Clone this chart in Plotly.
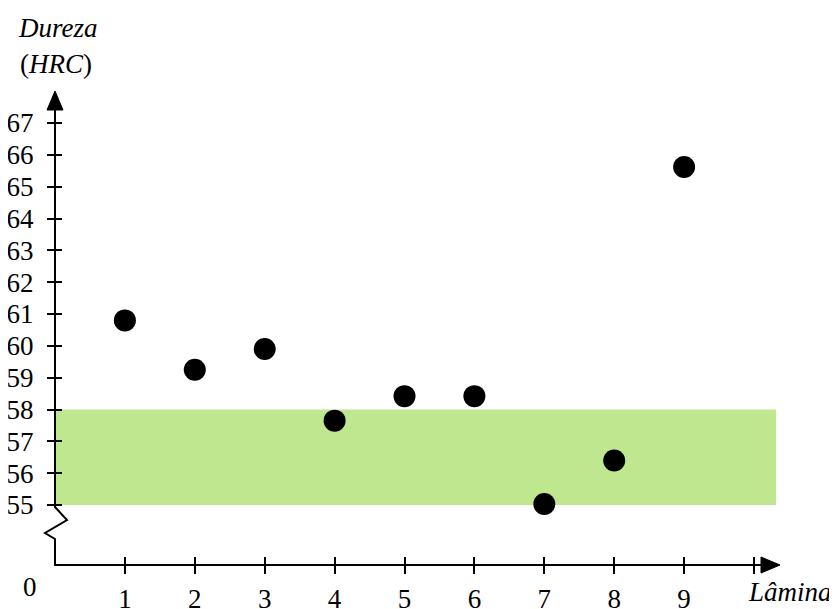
import plotly.graph_objects as go

# ---- data ----
laminas = [1, 2, 3, 4, 5, 6, 7, 8, 9]
dureza = [60.8, 59.25, 59.9, 57.65, 58.42, 58.42, 55.03, 56.4, 65.62]
y_ticks = list(range(55, 68))
x_ticks = [1, 2, 3, 4, 5, 6, 7, 8, 9, 10]
x_ticklabels = ["1", "2", "3", "4", "5", "6", "7", "8", "9", ""]
band_low, band_high = 55, 58

# ---- geometry (pixel scale of the picture, in page pixels) ----
OFF = 8                 # default page margin around the figure
W, H = 837 - OFF, 609 - OFF
AX_X, AX_Y = 55, 565    # page pixel of the axes corner
L = AX_X - OFF
B = H - (AX_Y - OFF)
XPX = 69.9     # pixels per lamina
YPX = 31.83    # pixels per HRC unit
Y55_PX = 505   # page pixel row of y = 55


def X(px):
    return (px - AX_X) / XPX


def Y(py):
    return 55 + (Y55_PX - py) / YPX


def PX(px):
    return (px - AX_X) / (W - L)


def PY(py):
    return (AX_Y - py) / (H - B)


FONT = "Liberation Serif"
x_range = [0, (W - L) / XPX]
y_range = [Y(AX_Y), Y(OFF)]

fig = go.Figure()
fig.add_trace(go.Scatter(
    x=laminas, y=dureza, mode="markers",
    marker=dict(size=22, color="black"),
    cliponaxis=False, showlegend=False, hoverinfo="x+y",
))
# dummy trace for overlaid axes (inside ticks)
fig.add_trace(go.Scatter(x=[None], y=[None], xaxis="x2", yaxis="y2", showlegend=False))

tf = dict(family=FONT, size=27, color="black")
common = dict(showgrid=False, zeroline=False, showline=False, tickcolor="black",
              tickwidth=2, automargin=False, tickfont=tf)
fig.update_layout(
    width=W, height=H,
    margin=dict(l=L, r=0, t=0, b=B, autoexpand=False),
    plot_bgcolor="white", paper_bgcolor="white",
    font=tf,
    xaxis=dict(range=x_range, tickvals=x_ticks, ticktext=x_ticklabels,
               ticks="outside", ticklen=8, ticklabelstandoff=2, **common),
    yaxis=dict(range=y_range, tickvals=y_ticks, ticks="outside", ticklen=7,
               ticklabelstandoff=8, **common),
    xaxis2=dict(range=x_range, tickvals=x_ticks, ticks="inside", ticklen=8,
                showticklabels=False, overlaying="x", anchor="y", side="bottom", **common),
    yaxis2=dict(range=y_range, tickvals=y_ticks, ticks="inside", ticklen=7,
                showticklabels=False, overlaying="y", anchor="x", side="left", **common),
)

shapes = []
# green band
shapes.append(dict(type="rect", xref="x", yref="y", x0=0, x1=X(776), y0=band_low, y1=band_high,
                   fillcolor="#bfe78f", line=dict(width=0), layer="below"))


def ppath(pts, close=False):
    s = "M " + " L ".join(f"{PX(px)},{PY(py)}" for px, py in pts)
    return s + (" Z" if close else "")


# axis lines with break zigzag
pts = [(55, 108), (55, 507), (67, 520), (45, 533), (55, 539), (55, 565), (762, 565)]
shapes.append(dict(type="path", xref="paper", yref="paper", path=ppath(pts),
                   line=dict(color="black", width=2)))
# arrowheads
up = [(55, 91), (47, 110), (63, 110)]
shapes.append(dict(type="path", xref="paper", yref="paper", path=ppath(up, True),
                   fillcolor="black", line=dict(color="black", width=1)))
right = [(780, 565), (761, 557), (761, 573)]
shapes.append(dict(type="path", xref="paper", yref="paper", path=ppath(right, True),
                   fillcolor="black", line=dict(color="black", width=1)))
fig.update_layout(shapes=shapes)

ann = [
    dict(text="<i>Dureza</i>", x=PX(58), y=PY(28)),
    dict(text="(<i>HRC</i>)", x=PX(56), y=PY(64)),
    dict(text="0", x=PX(30), y=PY(587)),
    dict(text="<i>Lâmina</i>", x=PX(790), y=PY(592)),
]
for a in ann:
    fig.add_annotation(xref="paper", yref="paper", showarrow=False, xanchor="center",
                       yanchor="middle", font=tf, **a)

fig.write_html("out.html")
